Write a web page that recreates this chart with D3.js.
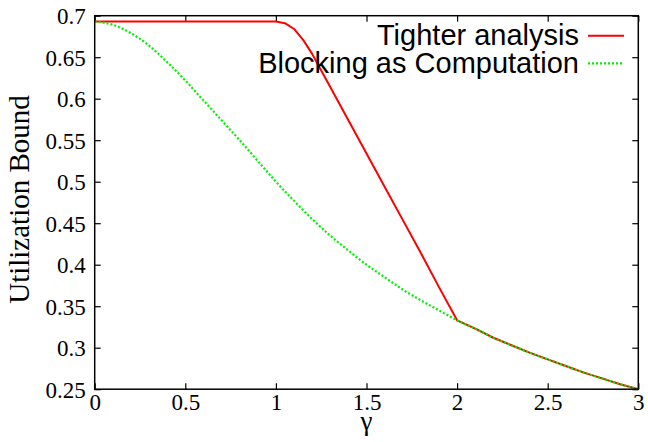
<!DOCTYPE html>
<html>
<head>
  <meta charset="UTF-8">
	<style>
		body { margin: 0; background: #fff; }
	</style>
</head>
<body>
	<script src="https://d3js.org/d3.v7.min.js"></script>
	<svg id="chart" width="648" height="442"></svg>
	<script>
		// values
		let xTicks = [0, 0.5, 1, 1.5, 2, 2.5, 3];
		let yTicks = [0.25, 0.3, 0.35, 0.4, 0.45, 0.5, 0.55, 0.6, 0.65, 0.7];

		let blockingGamma = [0, 0.1, 0.2, 0.3, 0.4, 0.5, 0.6, 0.7, 0.8, 0.9, 1.0,
			1.1, 1.2, 1.3, 1.4, 1.5, 1.6, 1.7, 1.8, 1.9, 2.0,
			2.1, 2.2, 2.3, 2.4, 2.5, 2.6, 2.7, 2.8, 2.9, 3.0];
		let blockingU = [0.693, 0.689, 0.679, 0.664, 0.644, 0.622, 0.598, 0.574, 0.550, 0.525, 0.500,
			0.477, 0.455, 0.435, 0.417, 0.400, 0.385, 0.370, 0.357, 0.345, 0.333,
			0.323, 0.312, 0.303, 0.294, 0.286, 0.278, 0.270, 0.263, 0.256, 0.250];

		let tighterGamma = [0, 0.5, 1.0, 1.05, 1.1, 1.15, 1.2, 1.25, 1.3, 1.4, 1.5, 1.6, 1.7, 1.8, 1.9, 2.0,
			2.1, 2.2, 2.3, 2.4, 2.5, 2.6, 2.7, 2.8, 2.9, 3.0];
		let tighterU = [0.693, 0.693, 0.693, 0.691, 0.684, 0.671, 0.654, 0.634, 0.614, 0.574, 0.534, 0.494, 0.454, 0.414, 0.373, 0.333,
			0.323, 0.312, 0.303, 0.294, 0.286, 0.278, 0.270, 0.263, 0.256, 0.250];

		let serifFont = "Liberation Serif",
			sansFont = "Liberation Sans";

		let margin = {top: 15.7, right: 9.7, bottom: 52.8, left: 94.7},
			width = 648 - margin.left - margin.right,
			height = 442 - margin.top - margin.bottom;

		let svg = d3.select("#chart")
			.append("g")
				.attr("transform", "translate(" + margin.left + "," + margin.top + ")");

		let x = d3.scaleLinear().domain([0, 3]).range([0, width]);
		let y = d3.scaleLinear().domain([0.25, 0.7]).range([height, 0]);

		// ticks on all four sides, pointing inward
		let axisB = svg.append("g")
			.attr("transform", "translate(0," + height + ")")
			.call(d3.axisBottom(x).tickValues(xTicks).tickSize(-6).tickPadding(4).tickFormat(d3.format("")));
		let axisL = svg.append("g")
			.call(d3.axisLeft(y).tickValues(yTicks).tickSize(-6).tickPadding(9).tickFormat(d3.format("")));
		let axisT = svg.append("g")
			.call(d3.axisTop(x).tickValues(xTicks).tickSize(-6).tickFormat(""));
		let axisR = svg.append("g")
			.attr("transform", "translate(" + width + ",0)")
			.call(d3.axisRight(y).tickValues(yTicks).tickSize(-6).tickFormat(""));

		[axisB, axisL, axisT, axisR].forEach(function(g) {
			g.attr("font-family", serifFont).attr("font-size", "23px");
			g.select(".domain").remove();
			g.selectAll(".tick line").attr("stroke", "#000").attr("stroke-width", 1.2);
		});
		axisT.selectAll(".tick text").remove();
		axisR.selectAll(".tick text").remove();
		axisL.selectAll(".tick text").attr("dy", "0.34em");

		// lines
		let line = d3.line()
			.x(function(d) { return x(d[0]); })
			.y(function(d) { return y(d[1]); });

		let tighterData = tighterGamma.map(function(g, i) { return [g, tighterU[i]]; });
		let blockingData = blockingGamma.map(function(g, i) { return [g, blockingU[i]]; });

		svg.append("path")
			.datum(tighterData)
			.attr("fill", "none")
			.attr("stroke", "#ff0000")
			.attr("stroke-width", 2)
			.attr("stroke-linejoin", "round")
			.attr("d", line);

		svg.append("path")
			.datum(blockingData)
			.attr("fill", "none")
			.attr("stroke", "#00f000")
			.attr("stroke-width", 2.2)
			.attr("stroke-dasharray", "2,2")
			.attr("d", line.curve(d3.curveMonotoneX));

		// frame
		svg.append("rect")
			.attr("width", width)
			.attr("height", height)
			.attr("fill", "none")
			.attr("stroke", "#000")
			.attr("stroke-width", 1.5);

		// legend
		let legendX = 579 - margin.left;
		svg.append("text")
			.attr("font-family", sansFont)
			.attr("font-size", "29px")
			.attr("x", legendX).attr("y", 45 - margin.top)
			.attr("text-anchor", "end")
			.text("Tighter analysis");
		svg.append("line")
			.attr("x1", 588 - margin.left).attr("x2", 624 - margin.left)
			.attr("y1", 35.7 - margin.top).attr("y2", 35.7 - margin.top)
			.attr("stroke", "#ff0000").attr("stroke-width", 2);
		svg.append("text")
			.attr("font-family", sansFont)
			.attr("font-size", "29px")
			.attr("x", legendX).attr("y", 73 - margin.top)
			.attr("text-anchor", "end")
			.text("Blocking as Computation");
		svg.append("line")
			.attr("x1", 588 - margin.left).attr("x2", 624 - margin.left)
			.attr("y1", 63.3 - margin.top).attr("y2", 63.3 - margin.top)
			.attr("stroke", "#00f000").attr("stroke-width", 2.2)
			.attr("stroke-dasharray", "2,2");

		// axis labels
		svg.append("text")
			.attr("font-family", serifFont)
			.attr("font-size", "29px")
			.attr("text-anchor", "middle")
			.attr("transform", "translate(" + (29.3 - margin.left) + "," + (199.5 - margin.top) + ") rotate(-90)")
			.text("Utilization Bound");
		svg.append("text")
			.attr("font-family", serifFont)
			.attr("font-size", "27px")
			.attr("text-anchor", "middle")
			.attr("x", x(1.5))
			.attr("y", 430 - margin.top)
			.text("γ");
	</script>
</body>
</html>
